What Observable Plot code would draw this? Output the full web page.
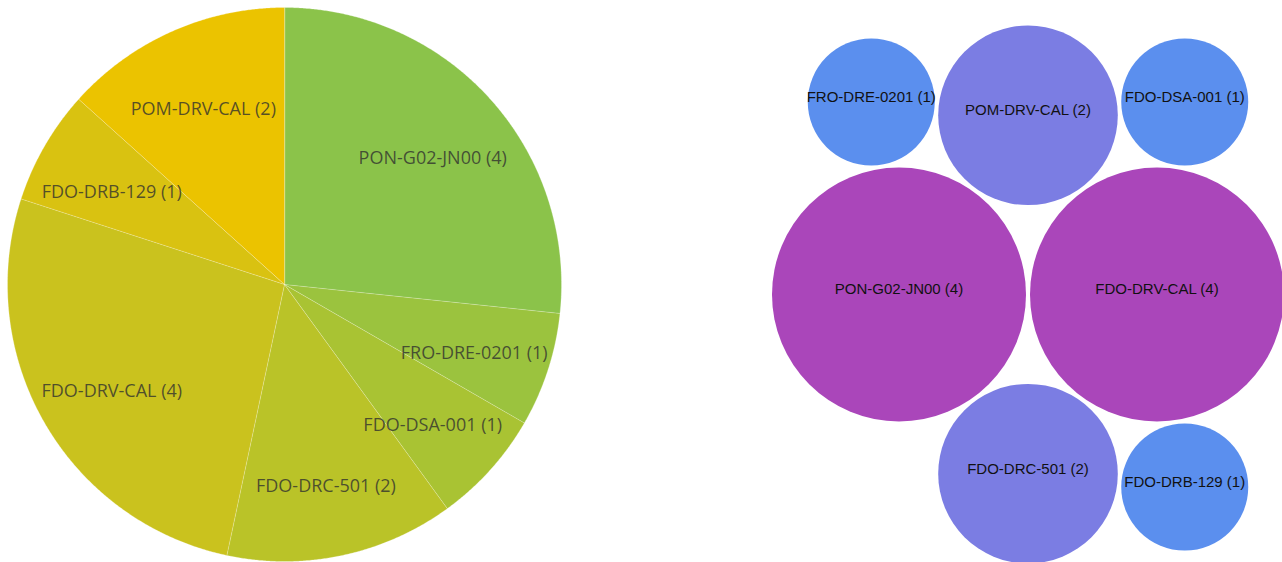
<!DOCTYPE html>
<html><head><meta charset="utf-8">
<script src="https://cdn.jsdelivr.net/npm/d3@7"></script>
<script src="https://cdn.jsdelivr.net/npm/@observablehq/plot@0.6"></script>
<style>
html,body{margin:0;padding:0;background:#fff;overflow:hidden}
#wrap{position:relative;width:1282px;height:562px}
#pie{position:absolute;left:0;top:0}
#bubbles{position:absolute;left:641px;top:0}
</style></head><body><div id="wrap"><div id="pie"></div><div id="bubbles"></div></div>
<script>
// ---- data ----
const categories = ["PON-G02-JN00","FRO-DRE-0201","FDO-DSA-001","FDO-DRC-501","FDO-DRV-CAL","FDO-DRB-129","POM-DRV-CAL"];
const counts = [4,1,1,2,4,1,2];
const pieColors = ["#8BC34A","#9BC33E","#A9C333","#BAC328","#CAC21E","#D9C211","#EBC300"];
const bubbleValues = [1,2,4];
const bubbleColors = ["#5B8FEE","#7B7DE3","#AA46BA"];
const labels = categories.map((c,i)=>`${c} (${counts[i]})`);

const rows = categories.map((c,i)=>({key:c, value:counts[i], label:labels[i]}));

// ---- pie (left) ----
const arcs = d3.pie().sort(null).value(d=>d.value)(rows);
const wedgePts = arcs.flatMap(a => {
  const n = Math.max(2, Math.ceil((a.endAngle - a.startAngle)/0.005));
  const pts = [{key:a.data.key, x:0, y:0}];
  for (let k=0;k<=n;k++){ const t = a.startAngle + (a.endAngle-a.startAngle)*k/n; pts.push({key:a.data.key, x:Math.sin(t), y:-Math.cos(t)}); }
  return pts;
});
const labelFrac = 0.72;
const pieLabels = arcs.map(a => {const m=(a.startAngle+a.endAngle)/2; return {label:a.data.label, x:labelFrac*Math.sin(m), y:-labelFrac*Math.cos(m)};});

const pie = Plot.plot({
  width:568, height:562, margin:0,
  x:{axis:null, domain:[-1,1], range:[7,561]},
  y:{axis:null, domain:[-1,1], range:[7,561]},
  color:{domain:categories, range:pieColors},
  marks:[
    Plot.line(wedgePts, {x:"x", y:"y", z:"key", fill:"key", stroke:"white", strokeOpacity:0.25, strokeWidth:1, curve:"linear-closed"}),
    Plot.text(pieLabels, {x:"x", y:"y", text:"label", dy:7, fontSize:18, fill:"#2f2f2f", fillOpacity:0.78, fontFamily:"Open Sans"})
  ]
});
document.getElementById("pie").append(pie);

// ---- packed bubbles (right) ----
const rMax = 127, pad = 4;
const rScale = d3.scaleSqrt().domain([0, d3.max(counts)]).range([0, rMax]);
const packed = rows.slice().sort((a,b)=>b.value-a.value).map(d=>({...d, r: rScale(d.value)+pad/2}));
d3.packSiblings(packed);
const bx = (d3.min(packed, d=>d.x-d.r) + d3.max(packed, d=>d.x+d.r))/2;
const by = (d3.min(packed, d=>d.y-d.r) + d3.max(packed, d=>d.y+d.r))/2;
const cx = 386.5, cy = 294, W = 641, H = 562;

const bubbles = Plot.plot({
  width:W, height:H, margin:0,
  x:{axis:null, domain:[bx-cx, bx-cx+W], range:[0,W]},
  y:{axis:null, domain:[by-cy, by-cy+H], range:[0,H]},
  r:{type:"sqrt", domain:rScale.domain(), range:rScale.range()},
  color:{type:"ordinal", domain:bubbleValues, range:bubbleColors},
  marks:[
    Plot.dot(packed, {x:"x", y:"y", r:"value", fill:"value"}),
    Plot.text(packed, {x:"x", y:"y", text:"label", dy:-5, fontSize:15, fontFamily:"Liberation Sans, Arial, sans-serif", fill:"#111"})
  ]
});
document.getElementById("bubbles").append(bubbles);
</script>
</body></html>
